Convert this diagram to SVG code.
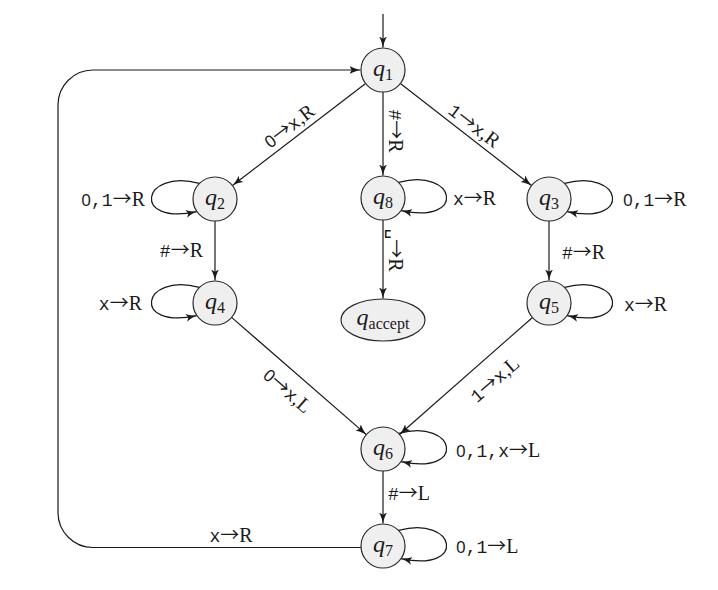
<svg xmlns="http://www.w3.org/2000/svg" width="718" height="590" viewBox="0 0 718 590">
<style>
.st{fill:#efefef;stroke:#2b2b2b;stroke-width:1.2}
.ed{fill:none;stroke:#1a1a1a;stroke-width:1.2}
.q{font-family:"Liberation Serif",serif;font-style:italic;font-size:24px;fill:#1a1a1a}
.sub{font-style:normal;font-size:16px}
.lb{font-family:"Liberation Serif",serif;font-size:20px;fill:#1a1a1a}
.tt{font-family:"Liberation Mono","DejaVu Sans Mono",monospace;font-size:18px}
.z{font-family:"Noto Sans",sans-serif;font-size:17px}
.ar{font-family:"Noto Sans CJK SC","DejaVu Sans",sans-serif;font-size:19px}
</style>
<defs>
<marker id="ah" markerUnits="userSpaceOnUse" markerWidth="12" markerHeight="10" refX="11" refY="5" orient="auto" viewBox="0 0 12 10">
<path d="M0,1 C3.5,3 7.5,4.4 11,5 C7.5,5.6 3.5,7 0,9 L2.2,5 Z" fill="#1a1a1a"/>
</marker>
</defs>
<rect width="718" height="590" fill="#fff"/>
<g id="connectors">
<path class="ed" d="M383,14 V47.5" marker-end="url(#ah)"/>
<path class="ed" d="M365.6,83.4 L232.4,185.6" marker-end="url(#ah)"/>
<path class="ed" d="M383,92 V175.5" marker-end="url(#ah)"/>
<path class="ed" d="M400.4,83.5 L531.6,185.5" marker-end="url(#ah)"/>
<path class="ed" d="M215,221 V280.5" marker-end="url(#ah)"/>
<path class="ed" d="M383,220 V298.5" marker-end="url(#ah)"/>
<path class="ed" d="M549,221 V280.5" marker-end="url(#ah)"/>
<path class="ed" d="M231.6,317.4 L366.4,434.6" marker-end="url(#ah)"/>
<path class="ed" d="M532.5,317.5 L399.5,434.5" marker-end="url(#ah)"/>
<path class="ed" d="M383,471 V523.5" marker-end="url(#ah)"/>
<path class="ed" d="M361.5,547.5 H93 A35,35 0 0 1 58,512.5 V105 A35,35 0 0 1 93,70 H360.5" marker-end="url(#ah)"/>
<path class="ed" transform="translate(215,199)" d="M-15.6,-15.6 C-74,-31 -84,27 -18,12.6" marker-end="url(#ah)"/>
<path class="ed" transform="translate(215,303)" d="M-15.6,-15.6 C-74,-31 -84,27 -18,12.6" marker-end="url(#ah)"/>
<path class="ed" transform="translate(383,198)" d="M15.6,-15.6 C74,-31 84,27 18,12.6" marker-end="url(#ah)"/>
<path class="ed" transform="translate(549,199)" d="M15.6,-15.6 C74,-31 84,27 18,12.6" marker-end="url(#ah)"/>
<path class="ed" transform="translate(549,303)" d="M15.6,-15.6 C74,-31 84,27 18,12.6" marker-end="url(#ah)"/>
<path class="ed" transform="translate(383,449)" d="M15.6,-15.6 C74,-31 84,27 18,12.6" marker-end="url(#ah)"/>
<path class="ed" transform="translate(383,546)" d="M15.6,-15.6 C74,-31 84,27 18,12.6" marker-end="url(#ah)"/>
</g>
<g id="labels">
<text class="lb" transform="translate(289.5,126.5) rotate(-37.5)" text-anchor="middle" y="6"><tspan class="z">0</tspan><tspan class="ar">→</tspan><tspan class="tt">x</tspan>,R</text>
<text class="lb" transform="translate(474,126) rotate(37.5)" text-anchor="middle" y="6"><tspan class="tt">1</tspan><tspan class="ar">→</tspan><tspan class="tt">x</tspan>,R</text>
<text class="lb" transform="translate(395,131) rotate(90)" text-anchor="middle" y="6"><tspan class="tt">#</tspan><tspan class="ar">→</tspan>R</text>
<text class="lb" transform="translate(395,250) rotate(90)" text-anchor="middle" y="6"><tspan class="tt">␣</tspan><tspan class="ar">→</tspan>R</text>
<text class="lb" x="145" y="206" text-anchor="end"><tspan class="z">0</tspan><tspan class="tt">,1</tspan><tspan class="ar">→</tspan>R</text>
<text class="lb" x="203" y="257" text-anchor="end"><tspan class="tt">#</tspan><tspan class="ar">→</tspan>R</text>
<text class="lb" x="142" y="310" text-anchor="end"><tspan class="tt">x</tspan><tspan class="ar">→</tspan>R</text>
<text class="lb" x="453" y="205"><tspan class="tt">x</tspan><tspan class="ar">→</tspan>R</text>
<text class="lb" x="623" y="206"><tspan class="z">0</tspan><tspan class="tt">,1</tspan><tspan class="ar">→</tspan>R</text>
<text class="lb" x="562" y="259"><tspan class="tt">#</tspan><tspan class="ar">→</tspan>R</text>
<text class="lb" x="624" y="311"><tspan class="tt">x</tspan><tspan class="ar">→</tspan>R</text>
<text class="lb" transform="translate(287,391) rotate(41)" text-anchor="middle" y="6"><tspan class="z">0</tspan><tspan class="ar">→</tspan><tspan class="tt">x</tspan>,L</text>
<text class="lb" transform="translate(495,380) rotate(-41)" text-anchor="middle" y="6"><tspan class="tt">1</tspan><tspan class="ar">→</tspan><tspan class="tt">x</tspan>,L</text>
<text class="lb" x="456" y="457"><tspan class="z">0</tspan><tspan class="tt">,1,x</tspan><tspan class="ar">→</tspan>L</text>
<text class="lb" x="388" y="500"><tspan class="tt">#</tspan><tspan class="ar">→</tspan>L</text>
<text class="lb" x="456" y="553"><tspan class="z">0</tspan><tspan class="tt">,1</tspan><tspan class="ar">→</tspan>L</text>
<text class="lb" x="231" y="542" text-anchor="middle"><tspan class="tt">x</tspan><tspan class="ar">→</tspan>R</text>
</g>
<g id="q1"><circle class="st" cx="383" cy="70" r="22"/><text class="q" x="383" y="76" text-anchor="middle">q<tspan class="sub" dy="4">1</tspan></text></g>
<g id="q2"><circle class="st" cx="215" cy="199" r="22"/><text class="q" x="215" y="205" text-anchor="middle">q<tspan class="sub" dy="4">2</tspan></text></g>
<g id="q8"><circle class="st" cx="383" cy="198" r="22"/><text class="q" x="383" y="204" text-anchor="middle">q<tspan class="sub" dy="4">8</tspan></text></g>
<g id="q3"><circle class="st" cx="549" cy="199" r="22"/><text class="q" x="549" y="205" text-anchor="middle">q<tspan class="sub" dy="4">3</tspan></text></g>
<g id="q4"><circle class="st" cx="215" cy="303" r="22"/><text class="q" x="215" y="309" text-anchor="middle">q<tspan class="sub" dy="4">4</tspan></text></g>
<g id="qaccept"><ellipse class="st" cx="383" cy="320" rx="42" ry="21"/><text class="q" x="383" y="325" text-anchor="middle">q<tspan class="sub" dy="4">accept</tspan></text></g>
<g id="q5"><circle class="st" cx="549" cy="303" r="22"/><text class="q" x="549" y="309" text-anchor="middle">q<tspan class="sub" dy="4">5</tspan></text></g>
<g id="q6"><circle class="st" cx="383" cy="449" r="22"/><text class="q" x="383" y="455" text-anchor="middle">q<tspan class="sub" dy="4">6</tspan></text></g>
<g id="q7"><circle class="st" cx="383" cy="546" r="22"/><text class="q" x="383" y="552" text-anchor="middle">q<tspan class="sub" dy="4">7</tspan></text></g>
</svg>
